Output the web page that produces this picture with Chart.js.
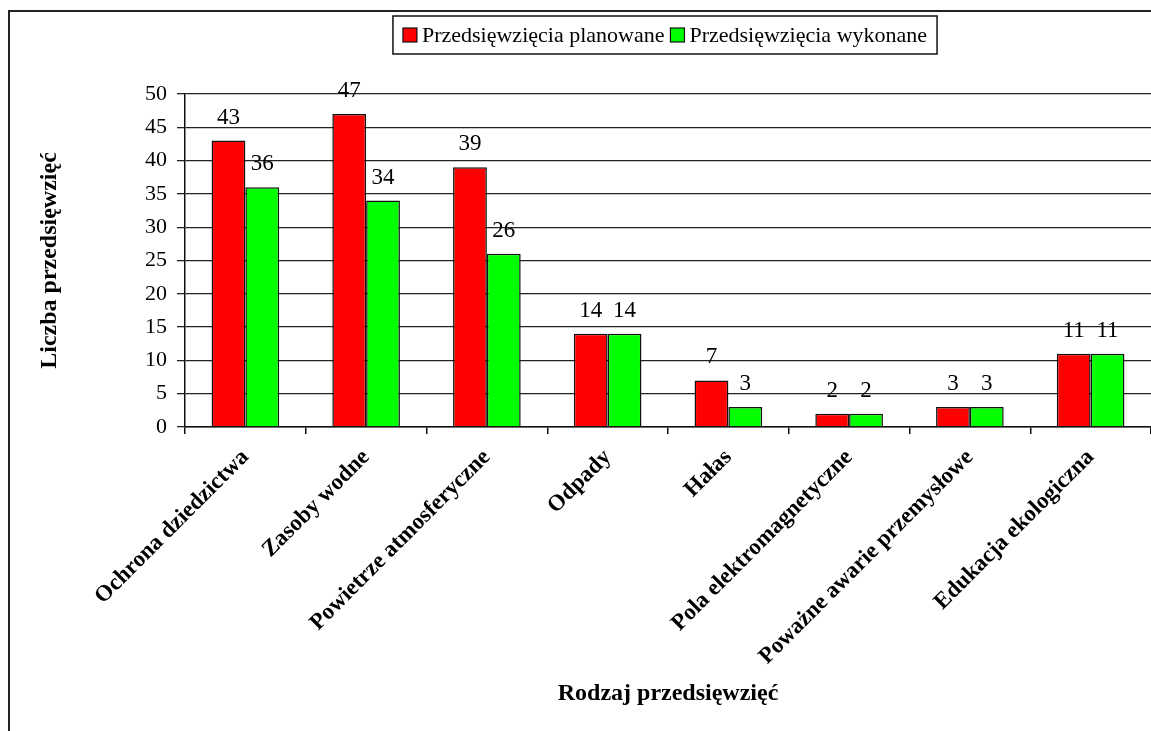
<!DOCTYPE html>
<html lang="pl">
<head>
<meta charset="utf-8">
<title>Rodzaj przedsięwzięć</title>
<script src="https://cdn.jsdelivr.net/npm/chart.js@4/dist/chart.umd.min.js"></script>
<style>
  html, body { margin: 0; padding: 0; background: #fff; overflow: hidden; }
  #frame { position: absolute; left: 8px; top: 10px; width: 1300px; height: 900px; border: 2px solid #222; }
  #myChart { position: absolute; left: 0; top: 0; }
</style>
</head>
<body>
<div id="frame"></div>
<canvas id="myChart" width="1151" height="731"></canvas>
<script>
const categories = [
  'Ochrona dziedzictwa',
  'Zasoby wodne',
  'Powietrze atmosferyczne',
  'Odpady',
  'Hałas',
  'Pola elektromagnetyczne',
  'Poważne awarie przemysłowe',
  'Edukacja ekologiczna'
];
const seriesNames = ['Przedsięwzięcia planowane', 'Przedsięwzięcia wykonane'];
const planowane = [43, 47, 39, 14, 7, 2, 3, 11];
const wykonane = [36, 34, 26, 14, 3, 2, 3, 11];
const colors = ['#ff0000', '#00ff00'];
const yTitle = 'Liczba przedsięwzięć';
const xTitle = 'Rodzaj przedsięwzięć';

const serif = '"Liberation Serif", "Times New Roman", serif';

// liczby nad słupkami
const valueLabels = {
  id: 'valueLabels',
  afterDatasetsDraw(chart) {
    const ctx = chart.ctx;
    ctx.save();
    ctx.font = '23px ' + serif;
    ctx.fillStyle = '#000';
    ctx.textAlign = 'center';
    ctx.textBaseline = 'alphabetic';
    chart.data.datasets.forEach((ds, i) => {
      chart.getDatasetMeta(i).data.forEach((bar, j) => {
        ctx.fillText(String(ds.data[j]), bar.x, bar.y - 17);
      });
    });
    ctx.restore();
  }
};

// legenda w ramce, jak w Excelu
const boxLegend = {
  id: 'boxLegend',
  afterDraw(chart) {
    const ctx = chart.ctx;
    ctx.save();
    ctx.font = '22px ' + serif;
    const sw = 14, gap = 5, pad = 10, between = 6;
    const ds = chart.data.datasets;
    let total = pad * 2;
    ds.forEach((d, i) => {
      total += sw + gap + ctx.measureText(d.label).width;
      if (i < ds.length - 1) total += between;
    });
    const cx = 665, top = 16, h = 38;
    let x = cx - total / 2;
    ctx.lineWidth = 1.5;
    ctx.strokeStyle = '#111';
    ctx.strokeRect(x, top, total, h);
    x += pad;
    const mid = top + h / 2;
    ds.forEach(d => {
      ctx.fillStyle = d.backgroundColor;
      ctx.fillRect(x, mid - sw / 2, sw, sw);
      ctx.lineWidth = 1.2;
      ctx.strokeRect(x, mid - sw / 2, sw, sw);
      x += sw + gap;
      ctx.fillStyle = '#000';
      ctx.textBaseline = 'middle';
      ctx.fillText(d.label, x, mid + 1);
      x += ctx.measureText(d.label).width + between;
    });
    ctx.restore();
  }
};

const data = {
  labels: categories,
  datasets: [
    { label: seriesNames[0], data: planowane, backgroundColor: colors[0] },
    { label: seriesNames[1], data: wykonane, backgroundColor: colors[1] }
  ]
};

const options = {
  responsive: false,
  animation: false,
  layout: { padding: { left: 31, top: 94, right: 0, bottom: 19 } },
  datasets: {
    bar: {
      categoryPercentage: 0.56,
      barPercentage: 1,
      borderColor: '#111',
      borderWidth: 1.5
    }
  },
  plugins: {
    legend: { display: false },
    tooltip: { enabled: false }
  },
  scales: {
    x: {
      grid: { offset: true, drawOnChartArea: false, drawTicks: true, tickLength: 7, color: '#111', lineWidth: 1.5 },
      border: { color: '#111', width: 1.5 },
      ticks: {
        autoSkip: false,
        maxRotation: 45,
        minRotation: 45,
        padding: 10,
        color: '#000',
        font: { family: serif, size: 23, weight: 'bold' }
      },
      title: {
        display: true,
        text: xTitle,
        color: '#000',
        padding: 4,
        font: { family: serif, size: 24, weight: 'bold' }
      },
      afterFit(scale) { scale.height = 285; }
    },
    y: {
      min: 0,
      max: 50,
      grid: { color: '#222', lineWidth: 1.3, tickLength: 8 },
      border: { color: '#111', width: 1.5 },
      ticks: {
        stepSize: 5,
        padding: 10,
        color: '#000',
        font: { family: serif, size: 22 }
      },
      title: {
        display: true,
        text: yTitle,
        color: '#000',
        padding: 4,
        font: { family: serif, size: 24, weight: 'bold' }
      },
      afterFit(scale) { scale.width = 154; }
    }
  }
};

const myChart = new Chart(document.getElementById('myChart'), {
  type: 'bar',
  data: data,
  options: options,
  plugins: [valueLabels, boxLegend]
});
</script>
</body>
</html>
